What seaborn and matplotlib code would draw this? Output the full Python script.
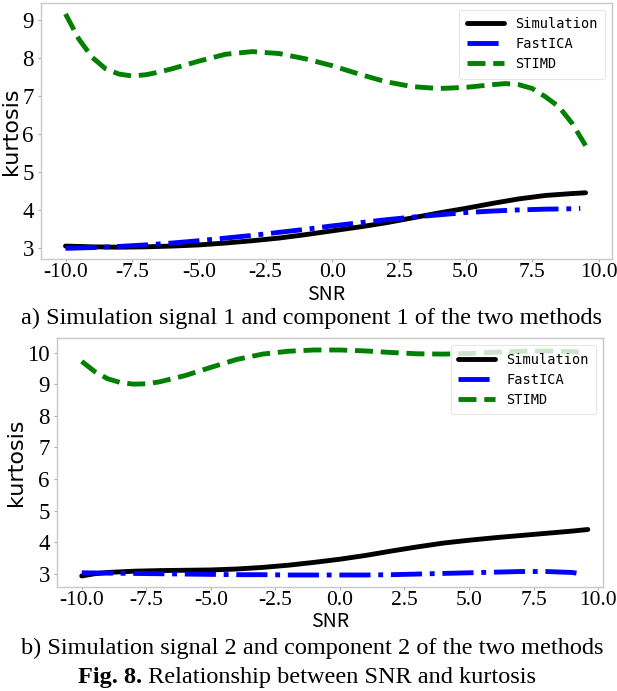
import numpy as np
import pandas as pd
import matplotlib
matplotlib.use("Agg")
import matplotlib.pyplot as plt
import seaborn as sns

# ---- panel a: signal 1 / component 1 ----
snr_a_stimd = [-10, -9.5, -9, -8.5, -8, -7.5, -7, -6.5, -6, -5, -4, -3, -2, -1,
               0, 1, 2, 3, 4, 5, 6, 6.5, 7, 7.5, 8, 8.5, 9, 9.5]
kurt_a_stimd = [9.16, 8.5, 8.02, 7.72, 7.58, 7.53, 7.56, 7.63, 7.72, 7.92, 8.1, 8.17,
                8.12, 7.98, 7.8, 7.58, 7.38, 7.25, 7.2, 7.23, 7.3, 7.33, 7.3, 7.2,
                6.98, 6.72, 6.28, 5.7]

snr_a_sim = [-10, -9, -8, -7, -6, -5, -4, -3, -2, -1, 0, 1, 2, 3, 4, 5, 6, 7, 8, 9, 9.5]
kurt_a_sim = [3.06, 3.04, 3.03, 3.04, 3.06, 3.09, 3.14, 3.2, 3.27, 3.36, 3.46, 3.56,
              3.67, 3.8, 3.93, 4.05, 4.18, 4.3, 4.39, 4.44, 4.46]

snr_a_ica = [-10, -9, -8, -7, -6, -5, -4, -3, -2, -1, 0, 1, 2, 3, 4, 5, 6, 7, 8, 9, 9.3]
kurt_a_ica = [3.0, 3.02, 3.05, 3.09, 3.14, 3.2, 3.27, 3.34, 3.42, 3.5, 3.59, 3.67,
              3.75, 3.82, 3.88, 3.94, 3.98, 4.01, 4.03, 4.04, 4.05]

# ---- panel b: signal 2 / component 2 ----
snr_b_stimd = [-10, -9.5, -9, -8.5, -8, -7.5, -7, -6, -5, -4, -3, -2, -1, 0,
               1, 2, 3, 4, 5, 6, 7, 8, 9, 9.5]
kurt_b_stimd = [9.72, 9.4, 9.17, 9.05, 9.0, 9.01, 9.07, 9.27, 9.53, 9.78, 9.95, 10.04,
                10.08, 10.08, 10.05, 10.0, 9.96, 9.95, 9.97, 10.01, 10.04, 10.05,
                10.03, 10.0]

snr_b_sim = [-10, -9.5, -9, -8, -7, -6, -5, -4, -3, -2, -1, 0, 1, 2, 3, 4, 5, 6, 7, 8, 9, 9.6]
kurt_b_sim = [2.93, 3.0, 3.04, 3.08, 3.1, 3.11, 3.12, 3.15, 3.2, 3.27, 3.36, 3.46,
              3.58, 3.72, 3.85, 3.97, 4.06, 4.14, 4.21, 4.28, 4.35, 4.4]

snr_b_ica = [-10, -9, -8, -7, -6, -5, -4, -3, -2, -1, 0, 1, 2, 3, 4, 5, 6, 7, 8, 9, 9.3]
kurt_b_ica = [3.03, 3.02, 3.01, 3.0, 2.99, 2.98, 2.97, 2.97, 2.96, 2.96, 2.96, 2.96,
              2.97, 2.99, 3.01, 3.03, 3.05, 3.07, 3.07, 3.04, 3.0]

series_names = ["Simulation", "FastICA", "STIMD"]
series_colors = ["black", "blue", "green"]
series_styles = ["-", "-.", "--"]

x_ticks = [-10.0, -7.5, -5.0, -2.5, 0.0, 2.5, 5.0, 7.5, 10.0]
x_ticklabels = ["-10.0", "-7.5", "-5.0", "-2.5", "0.0", "2.5", "5.0", "7.5", "10.0"]
y_ticks_a = [3, 4, 5, 6, 7, 8, 9]
y_ticks_b = [3, 4, 5, 6, 7, 8, 9, 10]

caption_a = "a) Simulation signal 1 and component 1 of the two methods"
caption_b = "b) Simulation signal 2 and component 2 of the two methods"
fig_label = "Fig. 8."
fig_title = "Relationship between SNR and kurtosis"

sns.set_theme(style="white")
plt.rcParams["font.family"] = ["DejaVu Sans"]
plt.rcParams["axes.edgecolor"] = "#c8c8c8"
plt.rcParams["axes.linewidth"] = 1.0
plt.rcParams["text.color"] = "black"
plt.rcParams["axes.labelcolor"] = "black"
plt.rcParams["xtick.color"] = "black"
plt.rcParams["ytick.color"] = "black"

fig = plt.figure(figsize=(6.17, 6.91), dpi=100)
ax_a = fig.add_axes([40.7 / 617, (691 - 259) / 691, 571.3 / 617, 256.3 / 691])
ax_b = fig.add_axes([56.7 / 617, (691 - 586.7) / 691, 546.6 / 617, 248.4 / 691])

serif = "Liberation Serif"
mono = "DejaVu Sans Mono"


def draw_panel(ax, data, yticks, xlim, ylim):
    for (sx, sy), name, col, ls in zip(data, series_names, series_colors, series_styles):
        df = pd.DataFrame({"SNR": sx, "kurtosis": sy})
        sns.lineplot(data=df, x="SNR", y="kurtosis", ax=ax, color=col,
                     linestyle=ls, linewidth=3.5, label=name, sort=False)
    ax.set_xlim(*xlim)
    ax.set_ylim(*ylim)
    ax.set_xticks(x_ticks)
    ax.set_xticklabels(x_ticklabels, fontfamily=serif, fontsize=15.5)
    ax.set_yticks(yticks)
    ax.set_yticklabels([str(v) for v in yticks], fontfamily=serif, fontsize=16.5)
    ax.tick_params(axis="both", which="major", length=2.5, width=0.8,
                   color="#b0b0b0", labelcolor="black", bottom=True, left=True)
    ax.tick_params(axis="x", pad=0.5)
    ax.tick_params(axis="y", pad=2.5)
    ax.set_xlabel("SNR", fontfamily="Noto Sans CJK SC", fontsize=14, labelpad=1)
    ax.set_ylabel("kurtosis", fontfamily="DejaVu Sans", fontsize=16, labelpad=1)
    leg = ax.legend(loc="upper right", prop={"family": mono, "size": 9.8},
                    handlelength=2.7, handletextpad=0.85, labelspacing=0.45,
                    borderpad=0.55, framealpha=0.8, edgecolor="#e0e0e0",
                    fancybox=True)
    leg.get_frame().set_linewidth(0.8)


draw_panel(ax_a,
           [(snr_a_sim, kurt_a_sim), (snr_a_ica, kurt_a_ica), (snr_a_stimd, kurt_a_stimd)],
           y_ticks_a, (-10.93, 10.49), (2.72, 9.455))
draw_panel(ax_b,
           [(snr_b_sim, kurt_b_sim), (snr_b_ica, kurt_b_ica), (snr_b_stimd, kurt_b_stimd)],
           y_ticks_b, (-10.97, 10.2), (2.59, 10.45))

cap_size = 17.5
fig.text(312 / 617, 1 - 318 / 691, caption_a, ha="center", va="center",
         fontfamily=serif, fontsize=cap_size)
fig.text(312 / 617, 1 - 648 / 691, caption_b, ha="center", va="center",
         fontfamily=serif, fontsize=cap_size)

# figure title: bold label followed by regular text, centred as one line
renderer = fig.canvas.get_renderer()
t_bold = fig.text(0, 1 - 677 / 691, fig_label, ha="left", va="center",
                  fontfamily=serif, fontweight="bold", fontsize=cap_size)
t_reg = fig.text(0, 1 - 677 / 691, " " + fig_title, ha="left", va="center",
                 fontfamily=serif, fontsize=cap_size)
w_bold = t_bold.get_window_extent(renderer).width
w_reg = t_reg.get_window_extent(renderer).width
start = (307 - (w_bold + w_reg) / 2) / 617
t_bold.set_x(start)
t_reg.set_x(start + w_bold / 617)

fig.savefig("out.png", dpi=100, facecolor="white")
